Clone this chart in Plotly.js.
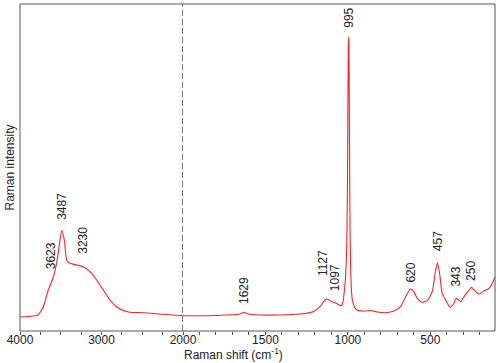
<!DOCTYPE html>
<html>
<head>
<meta charset="utf-8">
<script src="https://cdn.plot.ly/plotly-3.0.1.min.js"></script>
<style>
  html, body { margin: 0; padding: 0; background: #fff; }
  #grafica { width: 500px; height: 363px; }
</style>
</head>
<body>
<div id="grafica"></div>
<script>
// Raman spectrum, values (arbitrary intensity units)
const shift = [4000, 3900, 3800, 3779, 3714, 3653, 3623, 3591, 3550, 3509, 3487, 3456, 3427, 3387,
  3304, 3230, 3141, 3059, 2978, 2896, 2813, 2712, 2650, 2487, 2245, 2000,
  1878, 1736, 1655, 1629, 1605, 1534, 1412, 1290, 1210, 1169, 1139, 1125, 1098, 1078, 1052, 1040,
  1030, 1021, 1015, 1007, 1003, 1000, 997, 995, 992, 989, 986, 980, 972, 960, 946, 900, 865, 820,
  780, 721, 681, 650, 620, 600, 580, 549, 519, 489, 468, 457, 444, 428, 407, 381, 357, 343, 316,
  296, 272, 250, 235, 205, 174, 144, 124, 108];
const intensity = [14, 14.5, 15.5, 16, 24, 41, 47, 54, 68, 91, 100.5, 91, 71, 67.7,
  66, 64.5, 59.3, 51, 41, 31, 24, 20, 18.7, 18.3, 16.7, 15.3,
  15.3, 16, 17, 18.7, 17, 16, 16, 17, 19.3, 24.3, 31, 32, 29.3, 28.3, 26, 25.5,
  29, 41, 52, 85, 135, 225, 285, 294, 240, 150, 90, 45, 30, 24, 21, 20, 20.5, 19,
  18.3, 20, 24.3, 34.3, 42, 39.3, 32.7, 28.7, 30.3, 39.3, 61, 68.3, 57.7, 37.7, 31, 23.7, 27.7, 32.7, 29.3,
  34.3, 39.3, 43.7, 41, 37, 40.3, 42.7, 47.7, 54];

const peaks = [3623, 3487, 3230, 1629, 1127, 1097, 995, 620, 457, 343, 250];
const peakLabels = ["3623", "3487", "3230", "1629", "1127", "1097", "995", "620", "457", "343", "250"];
const ticks1 = [4000, 3000, 2000];
const ticks2 = [1500, 1000, 500];

// label placement (px): gap above the curve and sideways nudge
const gap = [13, 9, 11, 6, 21, 9, 7, 4, 10, 10, 4];
const nudge = [0, 0, 0, 0, -4, 3, 0, 0, 0, 0, 0];

function valorEn(w) {
  for (let i = 0; i < shift.length - 1; i++) {
    if (w <= shift[i] && w >= shift[i + 1]) {
      let t = (shift[i] - w) / (shift[i] - shift[i + 1]);
      return intensity[i] + t * (intensity[i + 1] - intensity[i]);
    }
  }
  return 0;
}

let altoX = [], altoY = [], bajoX = [], bajoY = [];
for (let i = 0; i < shift.length; i++) {
  if (shift[i] >= 2000) { altoX.push(shift[i]); altoY.push(intensity[i]); }
  if (shift[i] <= 2000) { bajoX.push(shift[i]); bajoY.push(intensity[i]); }
}

const fuente = { family: "Liberation Sans, Arial, sans-serif", size: 12, color: "#222" };
const linea = { color: "#ff2020", width: 1.1, shape: "spline", smoothing: 0.6 };
let datos = [
  { x: altoX, y: altoY, xaxis: "x", yaxis: "y", mode: "lines", line: linea, hoverinfo: "skip" },
  { x: bajoX, y: bajoY, xaxis: "x2", yaxis: "y", mode: "lines", line: linea, hoverinfo: "skip" }
];

// every tick mark (major ones included) is drawn as a minor tick
let minor1 = [], minor2 = [];
for (let v = 4000; v >= 2000; v -= 250) minor1.push(v);
for (let v = 1900; v >= 200; v -= 100) minor2.push(v);

let anotaciones = peaks.map((p, i) => ({
  x: p, y: valorEn(p), xref: p > 2000 ? "x" : "x2", yref: "y",
  text: peakLabels[i], showarrow: false, textangle: -90,
  xanchor: "center", yanchor: "bottom", yshift: gap[i], xshift: nudge[i],
  font: fuente
}));
// axis titles
anotaciones.push({
  x: 0, y: 0.5, xref: "paper", yref: "paper", xanchor: "center", yanchor: "middle",
  xshift: -11, text: "Raman intensity", textangle: -90, showarrow: false, font: fuente
});
anotaciones.push({
  x: 0.45, y: 0, xref: "paper", yref: "paper", xanchor: "center", yanchor: "middle",
  yshift: -23, text: "Raman shift (cm<sup>-1</sup>)", showarrow: false, font: fuente
});

const ejeComun = {
  ticks: "", showgrid: false, zeroline: false, showline: false,
  tickfont: fuente
};
const marcas = { ticks: "outside", ticklen: 3, tickcolor: "#555", tickwidth: 1, showgrid: false };

let layout = {
  width: 500, height: 363,
  margin: { l: 20, r: 5, t: 4, b: 32 },
  paper_bgcolor: "#fff", plot_bgcolor: "#fff",
  showlegend: false,
  font: fuente,
  xaxis: Object.assign({}, ejeComun, {
    domain: [0, 163 / 475], range: [4000, 2000],
    tickmode: "array", tickvals: ticks1,
    minor: Object.assign({ tickmode: "array", tickvals: minor1 }, marcas)
  }),
  xaxis2: Object.assign({}, ejeComun, {
    domain: [163 / 475, 1], range: [2000, 108], anchor: "y",
    tickmode: "array", tickvals: ticks2,
    minor: Object.assign({ tickmode: "array", tickvals: minor2 }, marcas)
  }),
  yaxis: {
    range: [0, 327], showticklabels: false, ticks: "", showgrid: false, zeroline: false, showline: false
  },
  annotations: anotaciones,
  shapes: [
    { type: "rect", xref: "paper", yref: "paper", x0: 0, x1: 1, y0: 0, y1: 1, line: { color: "#555", width: 1 } },
    { type: "line", xref: "x", yref: "paper", x0: 2000, x1: 2000, y0: 0, y1: 1, line: { color: "#333", width: 1.3, dash: "6px,3px" } }
  ]
};

Plotly.newPlot("grafica", datos, layout, { staticPlot: true });
</script>
</body>
</html>
